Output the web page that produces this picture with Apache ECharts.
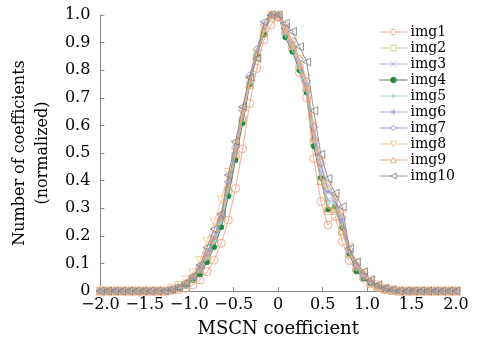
<!DOCTYPE html>
<html><head><meta charset="utf-8">
<script src="https://cdn.jsdelivr.net/npm/echarts@6/dist/echarts.min.js"></script>
<style>html,body{margin:0;padding:0;background:#fff}#c{width:480px;height:347px}</style>
</head><body><div id="c"></div>
<script>
var xValues = [-2.00,-1.92,-1.84,-1.76,-1.68,-1.60,-1.52,-1.44,-1.36,-1.28,
  -1.20,-1.12,-1.04,-0.96,-0.88,-0.80,-0.72,-0.64,-0.56,-0.48,
  -0.40,-0.32,-0.24,-0.16,-0.08,0.00,0.08,0.16,0.24,0.32,
  0.40,0.48,0.56,0.64,0.72,0.80,0.88,0.96,1.04,1.12,
  1.20,1.28,1.36,1.44,1.52,1.60,1.68,1.76,1.84,1.92,2.00];
var seriesNames = ['img1','img2','img3','img4','img5','img6','img7','img8','img9','img10'];
var Z10 = [0,0,0,0,0,0,0,0,0,0];
var Z9 = [0,0,0,0,0,0,0,0,0];
var img1 = Z10.concat([0.002,0.005,0.010,0.022,0.040,0.070,0.112,0.173,0.257,0.372,
  0.515,0.680,0.807,0.910,0.964,1.000,0.960,0.880,0.790,0.700,
  0.480,0.324,0.239,0.270,0.179,0.110,0.076,0.046,0.025,0.012,
  0.005,0.002]).concat(Z9);
var img2 = Z10.concat([0.004,0.010,0.022,0.042,0.070,0.115,0.175,0.250,0.360,0.490,
  0.620,0.745,0.850,0.935,0.990,1.000,0.940,0.880,0.810,0.730,
  0.540,0.400,0.290,0.290,0.215,0.130,0.080,0.050,0.028,0.015,
  0.007,0.003]).concat(Z9);
var img3 = Z10.concat([0.005,0.012,0.026,0.046,0.080,0.128,0.190,0.265,0.380,0.505,
  0.640,0.770,0.870,0.950,1.000,0.995,0.935,0.880,0.810,0.735,
  0.560,0.430,0.330,0.320,0.245,0.140,0.085,0.052,0.030,0.017,
  0.008,0.003]).concat(Z9);
var img4 = Z10.concat([0.004,0.010,0.022,0.040,0.060,0.104,0.159,0.231,0.344,0.475,
  0.608,0.749,0.855,0.930,1.000,1.000,0.919,0.867,0.800,0.720,
  0.525,0.410,0.295,0.305,0.230,0.135,0.072,0.046,0.027,0.016,
  0.008,0.003]).concat(Z9);
var img5 = Z10.concat([0.004,0.011,0.024,0.044,0.075,0.120,0.180,0.255,0.370,0.495,
  0.630,0.760,0.860,0.940,1.000,1.000,0.930,0.875,0.805,0.725,
  0.545,0.420,0.320,0.315,0.240,0.140,0.082,0.050,0.029,0.016,
  0.008,0.003]).concat(Z9);
var img6 = Z10.concat([0.005,0.012,0.027,0.048,0.082,0.135,0.195,0.270,0.390,0.515,
  0.650,0.775,0.870,0.955,1.000,0.995,0.945,0.900,0.830,0.750,
  0.580,0.455,0.360,0.330,0.260,0.145,0.092,0.058,0.033,0.018,
  0.009,0.004]).concat(Z9);
var img7 = Z10.concat([0.005,0.013,0.028,0.050,0.085,0.140,0.200,0.275,0.395,0.520,
  0.655,0.780,0.875,0.960,1.000,0.990,0.950,0.905,0.840,0.760,
  0.595,0.465,0.370,0.335,0.265,0.150,0.095,0.060,0.035,0.019,
  0.009,0.004]).concat(Z9);
var img8 = Z10.concat([0.010,0.020,0.040,0.065,0.110,0.180,0.250,0.330,0.430,0.530,
  0.650,0.760,0.860,0.950,1.000,0.990,0.950,0.900,0.840,0.770,
  0.600,0.470,0.380,0.340,0.280,0.160,0.100,0.065,0.040,0.022,
  0.010,0.004]).concat(Z9);
var img9 = Z10.concat([0.005,0.012,0.025,0.048,0.080,0.130,0.190,0.270,0.380,0.500,
  0.630,0.750,0.850,0.940,1.000,0.995,0.945,0.890,0.820,0.740,
  0.560,0.400,0.300,0.300,0.220,0.140,0.090,0.058,0.034,0.018,
  0.008,0.003]).concat(Z9);
var img10 = Z10.concat([0.006,0.014,0.030,0.054,0.094,0.157,0.224,0.280,0.420,0.541,
  0.668,0.774,0.843,0.975,1.000,1.000,0.970,0.940,0.885,0.830,
  0.653,0.495,0.408,0.354,0.305,0.155,0.106,0.070,0.040,0.022,
  0.010,0.004]).concat(Z9);
var yTicks = [0,0.1,0.2,0.3,0.4,0.5,0.6,0.7,0.8,0.9,1.0];
var xTicks = [-2.0,-1.5,-1.0,-0.5,0,0.5,1.0,1.5,2.0];

var allData = [img1,img2,img3,img4,img5,img6,img7,img8,img9,img10];
var FONT = 'DejaVu Serif';
var styles = [
  {c:'#f4a08a', sym:'circle', size:8, hollow:true},
  {c:'#c5cc8e', sym:'rect', size:7, hollow:true},
  {c:'#b9a0de', sym:'path://M0,0L10,10M10,0L0,10', size:4, hollow:true},
  {c:'#3d6e4a', sym:'circle', size:5, hollow:false, fill:'#1f8a40'},
  {c:'#8fd8cf', sym:'path://M5,0L5,10M0,5L10,5', size:6, hollow:true},
  {c:'#a3a3dc', sym:'path://M5,0L5,10M0,5L10,5M1.5,1.5L8.5,8.5M8.5,1.5L1.5,8.5', size:5, hollow:true},
  {c:'#8e86d2', sym:'diamond', size:8, hollow:true},
  {c:'#f7c58c', sym:'triangle', size:8, hollow:true, rot:180},
  {c:'#f2a274', sym:'triangle', size:8, hollow:true, rot:0},
  {c:'#888888', sym:'triangle', size:8, hollow:true, rot:90}
];
var series = seriesNames.map(function(n,k){
  var s = styles[k];
  return {
    name:n, type:'line', data: xValues.map(function(x,i){return [x, allData[k][i]];}),
    symbol:s.sym, symbolSize:s.size, symbolRotate:s.rot||0, showAllSymbol:true,
    lineStyle:{color:s.c, width:0.9},
    itemStyle:{color: s.hollow ? 'rgba(255,255,255,0)' : s.fill, borderColor: s.hollow ? s.c : s.fill, borderWidth:0.9},
    emphasis:{disabled:true}, animation:false, z: 2+k
  };
});
var legendData = seriesNames.map(function(n,k){
  var s = styles[k];
  return {name:n,
    itemStyle:{color: s.hollow ? '#ffffff' : s.fill, borderColor: s.hollow ? s.c : s.fill, borderWidth:0.9},
    lineStyle:{color:s.c, width:0.9}};
});
var chart = echarts.init(document.getElementById('c'));
chart.setOption({
  animation:false,
  grid:{left:95, right:24, top:15, bottom:56},
  legend:{orient:'vertical', left:374, top:19, itemWidth:28, itemHeight:7, itemGap:0,
    data: legendData,
    textStyle:{fontFamily:FONT, fontSize:14, lineHeight:16, color:'#000', padding:[0,0,0,-2]}},
  xAxis:{type:'value', min:-2, max:2, interval:0.5,
    name:'MSCN coefficient', nameLocation:'middle', nameGap:29,
    nameTextStyle:{fontFamily:FONT, fontSize:18, color:'#000'},
    axisLine:{onZero:false, lineStyle:{color:'#888', width:1}},
    axisTick:{inside:true, length:4, lineStyle:{color:'#888'}},
    splitLine:{show:false},
    axisLabel:{fontFamily:FONT, fontSize:16, color:'#000', margin:6,
      formatter:function(v){ if(v===0) return '0'; return (v<0?'\u2212':'')+Math.abs(v).toFixed(1);} }},
  yAxis:{type:'value', min:0, max:1, interval:0.1,
    name:'Number of coefficients\n(normalized)', nameLocation:'middle', nameGap:37, nameRotate:90,
    nameTextStyle:{fontFamily:FONT, fontSize:16, color:'#000', lineHeight:23},
    axisLine:{show:true, onZero:false, lineStyle:{color:'#888', width:1}},
    axisTick:{show:true, inside:true, length:4, lineStyle:{color:'#888'}},
    splitLine:{show:false},
    axisLabel:{fontFamily:FONT, fontSize:16, color:'#000', margin:10,
      formatter:function(v){ if(v===0) return '0'; return v.toFixed(1);} }},
  series: series
});
</script></body></html>
